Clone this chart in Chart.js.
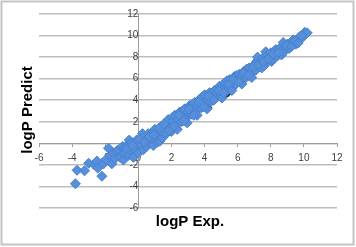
<!DOCTYPE html>
<html>
<head>
<meta charset="utf-8">
<script src="https://cdn.jsdelivr.net/npm/chart.js@4"></script>
<style>
  html, body { margin: 0; padding: 0; background: #fff; }
  #wrap { width: 356px; height: 247px; }
</style>
</head>
<body>
<div id="wrap"><canvas id="scatter" width="356" height="247"></canvas></div>
<script>
// logP eksperimen vs prediksi
const expValues = [
  -3.8, -3.7, -3.25, -3.0, -2.65, -2.5, -2.45, -2.2, -2.1, -1.95, -1.8, -1.7, -1.6, -1.5, -1.4, -1.3,
  -1.2, -1.1, -1.0, -0.95, -0.9, -0.85, -0.7, -0.6, -0.55, -0.5, -0.4, -0.3, -0.2, -0.15, -0.1,
  0.0, 0.1, 0.2, 0.25, 0.3, 0.4, 0.5, 0.55, 0.6, 0.7, 0.8, 0.85, 0.9, 1.0, 1.1, 1.15, 1.2, 1.3,
  1.4, 1.45, 1.5, 1.6, 1.7, 1.75, 1.8, 1.9, 2.0, 2.05, 2.1, 2.2, 2.3, 2.35, 2.4, 2.5, 2.6, 2.65,
  2.7, 2.8, 2.9, 2.95, 3.0, 3.1, 3.2, 3.25, 3.3, 3.4, 3.5, 3.55, 3.6, 3.7, 3.8, 3.85, 3.9, 4.0,
  4.1, 4.15, 4.2, 4.3, 4.4, 4.45, 4.5, 4.6, 4.7, 4.75, 4.8, 4.9, 5.0, 5.05, 5.1, 5.2, 5.3, 5.35,
  5.4, 5.5, 5.6, 5.65, 5.7, 5.8, 5.9, 5.95, 6.0, 6.1, 6.2, 6.25, 6.3, 6.4, 6.5, 6.55, 6.6, 6.7,
  6.8, 6.85, 6.9, 7.0, 7.1, 7.15, 7.2, 7.3, 7.4, 7.45, 7.5, 7.6, 7.7, 7.75, 7.8, 7.9, 8.0, 8.05,
  8.1, 8.2, 8.3, 8.35, 8.4, 8.5, 8.6, 8.65, 8.75, 8.8, 8.9, 9.0, 9.1, 9.2, 9.35, 9.5, 9.6, 9.75,
  9.9, 10.05, 10.2,
  -0.75, -0.35, 0.05, 0.35, 0.65, 0.95, 1.25, 1.55, 1.85, 2.15, 2.45, 2.75, 3.05, 3.35, 3.65, 3.95,
  4.25, 4.55, 4.85, 5.15, 5.45, 5.75, 6.05, 6.35, 6.65, 6.95, 7.25, 7.55, 7.85, 8.15, 8.45, 8.95,
  9.25, 9.45, 9.65, 9.85
];
const predValues = [
  -3.75, -2.5, -2.55, -1.85, -2.0, -1.65, -2.3, -3.05, -1.9, -1.5, -0.45, -1.2, -1.9, -0.9, -1.4, -0.7,
  -0.6, -1.3, -0.4, -0.3, -1.55, -0.9, -0.2, -1.1, 0.3, -0.6, 0.1, -1.3, -0.4, -0.7, 0.3,
  -0.9, -0.1, 0.5, 0.9, -0.6, 0.2, -0.3, 0.4, 0.9, 0.0, 0.5, 1.0, -0.2, 1.3, 0.6, 0.1, 0.9, 0.2,
  1.6, 0.5, 1.0, 1.3, 0.9, 1.7, 2.2, 1.5, 1.1, 2.4, 2.0, 2.6, 1.7, 1.3, 2.2, 2.9, 2.0, 3.0,
  2.5, 3.2, 2.4, 1.9, 2.9, 3.5, 2.7, 3.6, 3.1, 3.8, 3.0, 2.6, 3.4, 4.1, 3.3, 4.3, 3.8, 4.5,
  3.5, 3.2, 4.0, 4.7, 3.9, 4.6, 4.3, 4.9, 4.2, 5.0, 4.6, 5.3, 4.5, 4.2, 5.0, 5.6, 4.8, 5.8,
  5.3, 5.9, 5.2, 4.9, 5.6, 6.2, 5.5, 6.3, 5.9, 6.4, 5.8, 5.5, 6.2, 6.7, 6.1, 6.9, 6.5, 7.0,
  6.4, 6.1, 6.8, 7.3, 6.8, 7.6, 8.0, 7.1, 7.5, 7.0, 7.9, 7.2, 8.5, 8.1, 7.6, 8.0, 8.4, 7.6,
  7.8, 8.2, 8.7, 8.6, 8.1, 8.5, 8.9, 8.2, 9.35, 8.5, 8.9, 9.2, 8.8, 9.3, 9.6, 9.2, 9.6, 9.9,
  9.8, 10.3, 10.25,
  -0.5, -0.2, 0.4, 0.1, 0.6, 0.8, 1.4, 1.8, 1.2, 1.6, 2.6, 2.1, 3.2, 2.6, 3.8, 3.4,
  4.4, 4.0, 4.9, 4.7, 5.5, 5.9, 5.7, 6.5, 6.3, 7.1, 7.3, 7.6, 7.8, 8.3, 8.4, 9.1,
  9.0, 9.5, 9.3, 10.0
];
// beberapa titik gelap yang tertutup di bawah seri utama
const darkExp = [4.2, 5.38];
const darkPred = [3.3, 4.65];
const tickValues = [-6, -4, -2, 0, 2, 4, 6, 8, 10, 12];

const toPoints = (xs, ys) => xs.map((x, i) => ({ x: x, y: ys[i] }));

// Bingkai luar dan judul sumbu digambar manual
const framePlugin = {
  id: 'frame',
  beforeDraw(chart) {
    const ctx = chart.ctx;
    ctx.save();
    ctx.fillStyle = '#ffffff';
    ctx.fillRect(0, 0, chart.width, chart.height);
    ctx.strokeStyle = '#c4c4c4';
    ctx.lineWidth = 2;
    ctx.strokeRect(1.5, 1.5, 352, 243);
    ctx.restore();
  },
  afterDraw(chart) {
    const ctx = chart.ctx;
    ctx.save();
    ctx.fillStyle = '#000000';
    ctx.font = 'bold 15px "Liberation Sans", Arial, sans-serif';
    ctx.textAlign = 'center';
    ctx.textBaseline = 'middle';
    ctx.fillText('logP Exp.', 190, 222);
    ctx.translate(28, 110);
    ctx.rotate(-Math.PI / 2);
    ctx.fillText('logP Predict', 0, 0);
    ctx.restore();
  }
};

const ctx = document.getElementById('scatter').getContext('2d');
new Chart(ctx, {
  type: 'scatter',
  data: {
    datasets: [
      {
        label: 'logP',
        data: toPoints(expValues, predValues),
        pointStyle: 'rectRot',
        pointRadius: 5,
        backgroundColor: '#5690dc',
        borderColor: '#4880cc',
        borderWidth: 1
      },
      {
        label: 'dark',
        data: toPoints(darkExp, darkPred),
        pointStyle: 'rectRot',
        pointRadius: 4,
        backgroundColor: '#1a1a1a',
        borderColor: '#1a1a1a',
        borderWidth: 1
      }
    ]
  },
  options: {
    responsive: false,
    animation: false,
    layout: {
      padding: { left: 39, right: 19, top: 14, bottom: 39 }
    },
    scales: {
      x: {
        type: 'linear',
        min: -6,
        max: 12,
        position: { y: 0 },
        afterBuildTicks: (axis) => { axis.ticks = tickValues.map((v) => ({ value: v })); },
        grid: {
          drawOnChartArea: false,
          drawTicks: true,
          tickLength: 3,
          color: '#9a9a9a'
        },
        border: { display: true, color: '#9a9a9a', width: 1 },
        ticks: {
          padding: 6,
          color: '#404040',
          font: { family: '"Liberation Sans", Arial, sans-serif', size: 10 }
        }
      },
      y: {
        type: 'linear',
        min: -6,
        max: 12,
        position: { x: 0 },
        afterBuildTicks: (axis) => { axis.ticks = tickValues.map((v) => ({ value: v })); },
        grid: {
          drawOnChartArea: true,
          drawTicks: true,
          tickLength: 3,
          color: '#bdbdbd',
          lineWidth: 1.5
        },
        border: { display: true, color: '#9a9a9a', width: 1 },
        ticks: {
          padding: 7,
          color: '#404040',
          font: { family: '"Liberation Sans", Arial, sans-serif', size: 10 }
        }
      }
    },
    plugins: {
      legend: { display: false },
      tooltip: { enabled: false }
    }
  },
  plugins: [framePlugin]
});
</script>
</body>
</html>
